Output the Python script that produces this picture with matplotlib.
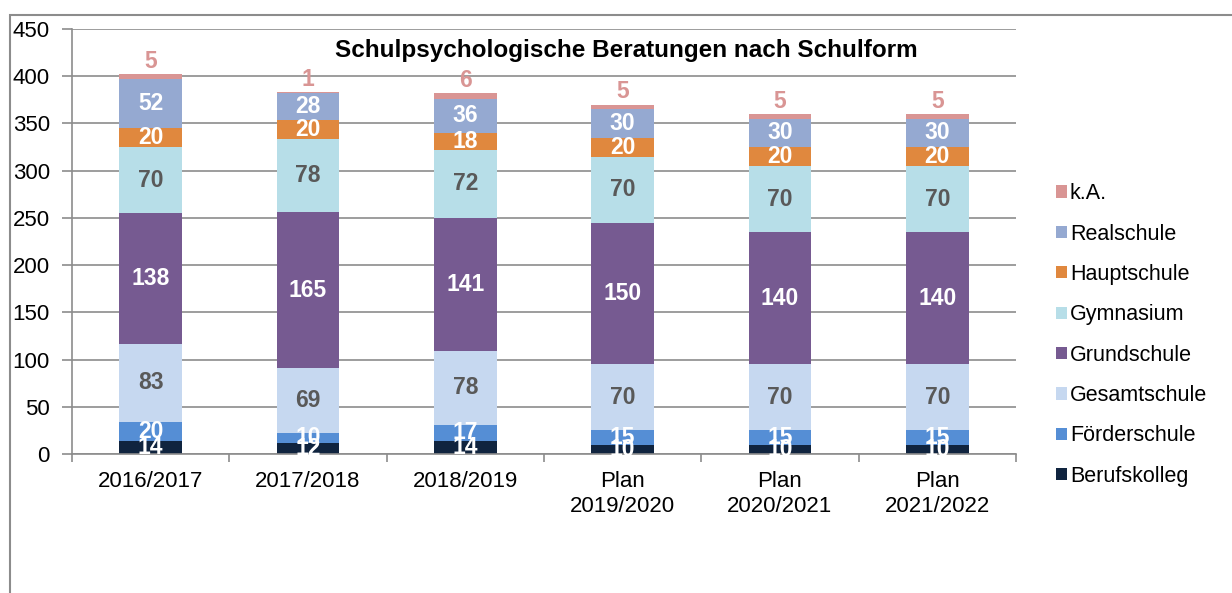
import numpy as np
import matplotlib.pyplot as plt
from matplotlib.patches import Rectangle

plt.rcParams['font.family'] = ['Liberation Sans', 'DejaVu Sans']

# Daten
jahre = ["2016/2017", "2017/2018", "2018/2019", "Plan\n2019/2020", "Plan\n2020/2021", "Plan\n2021/2022"]
schulformen = ["Berufskolleg", "Förderschule", "Gesamtschule", "Grundschule",
               "Gymnasium", "Hauptschule", "Realschule", "k.A."]
berufskolleg = [14, 12, 14, 10, 10, 10]
foerderschule = [20, 10, 17, 15, 15, 15]
gesamtschule = [83, 69, 78, 70, 70, 70]
grundschule = [138, 165, 141, 150, 140, 140]
gymnasium = [70, 78, 72, 70, 70, 70]
hauptschule = [20, 20, 18, 20, 20, 20]
realschule = [52, 28, 36, 30, 30, 30]
ka = [5, 1, 6, 5, 5, 5]

werte = [berufskolleg, foerderschule, gesamtschule, grundschule, gymnasium, hauptschule, realschule, ka]
farben = ["#10243F", "#558ED5", "#C6D8F0", "#765A91", "#B7DEE8", "#E0883E", "#95A9D1", "#D99594"]
textfarben = ["white", "white", "#595959", "white", "#595959", "white", "white", "#D99594"]

fig = plt.figure(figsize=(12.32, 5.93), dpi=100)
ax = fig.add_axes([72 / 1232, 1 - 454 / 593, 944 / 1232, 425 / 593])

x = np.arange(len(jahre))
unten = np.zeros(len(jahre))
for name, w, farbe, tf in zip(schulformen, werte, farben, textfarben):
    w = np.array(w, dtype=float)
    ax.bar(x, w, 0.4, bottom=unten, color=farbe, label=name, zorder=2)
    for xi, yi, wi in zip(x, unten, w):
        if name == "k.A.":
            ax.annotate(f"{int(wi)}", (xi, yi + wi), xytext=(0, 1), textcoords="offset points",
                        ha="center", va="bottom", color=tf, fontsize=16.5, fontweight="bold", zorder=3)
        else:
            ax.text(xi, yi + wi / 2, f"{int(wi)}", ha="center", va="center",
                    color=tf, fontsize=16.5, fontweight="bold", zorder=3)
    unten += w

ax.set_ylim(0, 450)
ax.set_xlim(-0.5, len(jahre) - 0.5)
ax.set_yticks(np.arange(0, 451, 50))
ax.yaxis.grid(True, color="#8c8c8c", linewidth=1.2, zorder=0)
ax.set_axisbelow(True)

ax.set_xticks(x)
ax.set_xticklabels(jahre, fontsize=16, linespacing=1.3)
ax.set_xticks(np.arange(-0.5, len(jahre)), minor=True)
ax.tick_params(axis="x", which="major", length=0, pad=12)
ax.tick_params(axis="x", which="minor", length=6, color="#8c8c8c", width=1.2)
ax.tick_params(axis="y", length=7, color="#8c8c8c", width=1.2, labelsize=16, pad=9)

for s in ["top", "right"]:
    ax.spines[s].set_visible(False)
for s in ["left", "bottom"]:
    ax.spines[s].set_color("#8c8c8c")
    ax.spines[s].set_linewidth(1.2)

fig.text(626 / 1232, 1 - 50 / 593, "Schulpsychologische Beratungen nach Schulform",
         ha="center", va="center", fontsize=17.5, fontweight="bold")

h, l = ax.get_legend_handles_labels()
fig.legend(h[::-1], l[::-1], loc="center left", bbox_to_anchor=(1045 / 1232, 1 - 335 / 593),
           frameon=False, fontsize=15.5, handlelength=0.5, handleheight=0.5,
           handletextpad=0.15, labelspacing=0.9, borderpad=0)

# Rahmen
fig.add_artist(Rectangle((10 / 1232, -0.1), 1.2, 1 - 15 / 593 + 0.1, transform=fig.transFigure,
                         fill=False, edgecolor="#8c8c8c", linewidth=1.5))

fig.savefig("out.png", dpi=100)
